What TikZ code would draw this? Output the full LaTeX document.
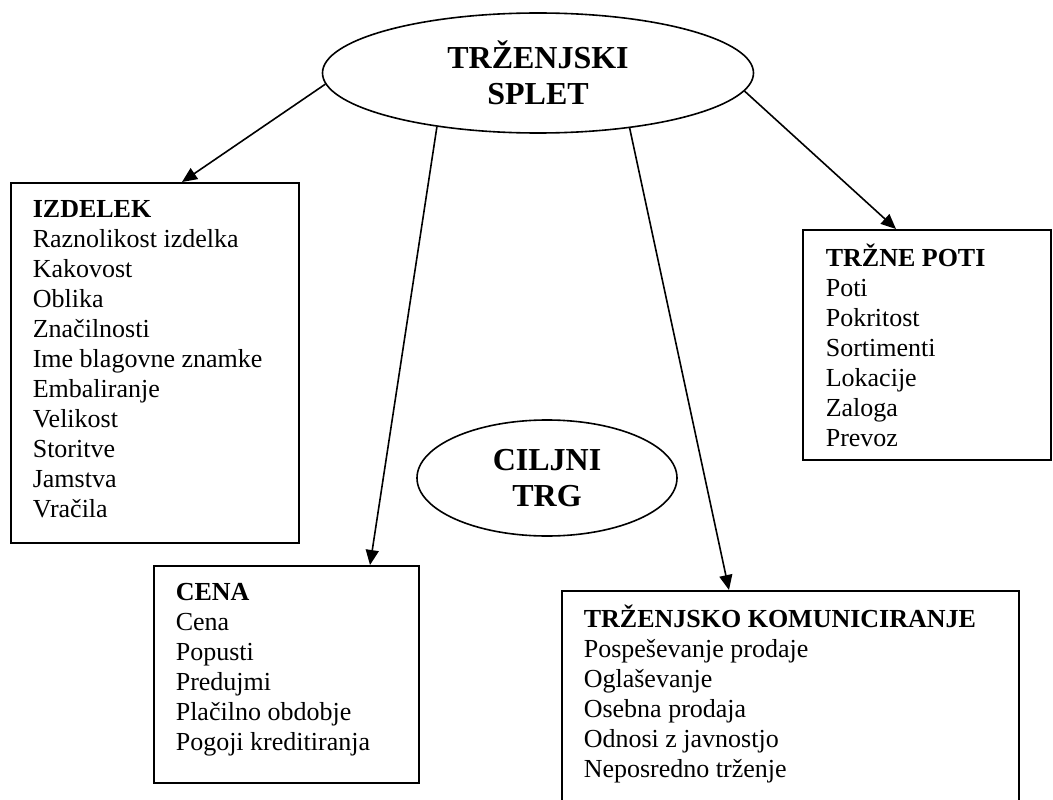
\documentclass[tikz,border=0pt]{standalone}
\usepackage{fontspec}
\setmainfont{Liberation Serif}
\usetikzlibrary{arrows.meta}
\usetikzlibrary{shapes.geometric}

\begin{document}
\begin{tikzpicture}[->,>={Triangle[length=15pt,width=13pt]},line width=1.6pt,x=1pt,y=-1pt]
\tikzstyle{elipsa}=[ellipse, draw=black, align=center, inner sep=0pt, font=\bfseries\fontsize{32}{36.5}\selectfont]
\tikzstyle{okvir}=[rectangle, draw=black, anchor=north west, inner sep=0pt]
\tikzstyle{seznam}=[anchor=north west, inner sep=0pt, align=left, font=\fontsize{26}{30}\selectfont]
\clip (0,0) rectangle (1053,800);
\node[elipsa, minimum width=431, minimum height=120] (splet) at (538,73) {TRŽENJSKI\\SPLET};
\node[elipsa, minimum width=260, minimum height=116] (trg) at (547,478) {CILJNI\\TRG};
\node[okvir, minimum width=288, minimum height=360] (izdelek) at (10,182) {};
\node[okvir, minimum width=265, minimum height=217] (cena) at (153,565) {};
\node[okvir, minimum width=248, minimum height=230] (poti) at (802,229) {};
\node[okvir, minimum width=457, minimum height=240] (komunik) at (561,590) {};
\node[seznam] (izdelek-t) at ([shift={(22,14)}]izdelek.north west)
    {\strut\textbf{IZDELEK}\\Raznolikost izdelka\\Kakovost\\Oblika\\Značilnosti\\Ime blagovne znamke\\Embaliranje\\Velikost\\Storitve\\Jamstva\\Vračila};
\node[seznam] (cena-t) at ([shift={(22,14)}]cena.north west)
    {\strut\textbf{CENA}\\Cena\\Popusti\\Predujmi\\Plačilno obdobje\\Pogoji kreditiranja};
\node[seznam] (poti-t) at ([shift={(23,14)}]poti.north west)
    {\strut\textbf{TRŽNE POTI}\\Poti\\Pokritost\\Sortimenti\\Lokacije\\Zaloga\\Prevoz};
\node[seznam] (komunik-t) at ([shift={(22,14)}]komunik.north west)
    {\strut\textbf{TRŽENJSKO KOMUNICIRANJE}\\Pospeševanje prodaje\\Oglaševanje\\Osebna prodaja\\Odnosi z javnostjo\\Neposredno trženje};
\foreach \kot/\cilj/\odmik in {183/izdelek/172, 208/cena/217, 329/komunik/168, 355/poti/94}
    \path (splet.\kot) edge ([xshift=\odmik]\cilj.north west);
\end{tikzpicture}
\end{document}
